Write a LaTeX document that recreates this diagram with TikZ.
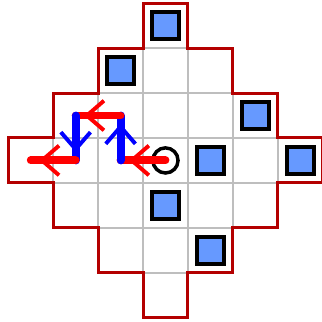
\documentclass[tikz,border=0pt]{standalone}
\usetikzlibrary{calc}
\definecolor{outl}{RGB}{180,0,0}
\definecolor{sqfill}{RGB}{102,153,255}
\definecolor{gridc}{RGB}{190,190,190}
\tikzset{
  cellbox/.style={draw=gridc, line width=1.3pt, fill=white},
  outline/.style={draw=outl, line width=1.9pt, line join=miter},
  bluebox/.style={draw=black, fill=sqfill, line width=2.5pt, rectangle, minimum size=0.6cm, inner sep=0pt},
  ring/.style={draw=black, line width=2.2pt, circle, minimum size=0.56cm, inner sep=0pt},
  shaft/.style={line width=5pt, line cap=round},
  barb/.style={line width=2.5pt},
}
\newcommand\arrowseg[3]{%
  \draw[#1, shaft] (#2) -- (#3);
  \draw[#1, barb] ($(#3)!0.63!(#2)!0.33cm!90:(#3)$) -- ($(#3)!0.25!(#2)$) -- ($(#3)!0.63!(#2)!0.33cm!-90:(#3)$);
}
\begin{document}
\begin{tikzpicture}
\useasboundingbox (-0.185,-7.098) rectangle (6.964,0.073);
% cells
\foreach \r in {0,...,6} {
  \foreach \c in {0,...,6} {
    \pgfmathtruncatemacro\dd{abs(\r-3)+abs(\c-3)}
    \ifnum\dd<4
      \draw[cellbox] (\c,-\r) rectangle ++(1,-1);
    \fi
  }
}
% outline
\draw[outline] (3,0) -- (4,0) -- (4,-1) -- (5,-1) -- (5,-2) -- (6,-2) -- (6,-3) -- (7,-3) -- (7,-4) -- (6,-4) -- (6,-5) -- (5,-5) -- (5,-6) -- (4,-6) -- (4,-7) -- (3,-7) -- (3,-6) -- (2,-6) -- (2,-5) -- (1,-5) -- (1,-4) -- (0,-4) -- (0,-3) -- (1,-3) -- (1,-2) -- (2,-2) -- (2,-1) -- (3,-1) -- cycle;
% blue squares
\node[bluebox] (s1) at (3.5,-0.5) {};
\node[bluebox] (s2) at (2.5,-1.5) {};
\node[bluebox] (s3) at (5.5,-2.5) {};
\node[bluebox] (s4) at (4.5,-3.5) {};
\node[bluebox] (s5) at (6.5,-3.5) {};
\node[bluebox] (s6) at (3.5,-4.5) {};
\node[bluebox] (s7) at (4.5,-5.5) {};
% start ring
\node[ring] (start) at (3.5,-3.5) {};
% path points
\coordinate (p0) at (3.5,-3.5);
\coordinate (p1) at (2.5,-3.5);
\coordinate (p2) at (2.5,-2.5);
\coordinate (p3) at (1.5,-2.5);
\coordinate (p4) at (1.5,-3.5);
\coordinate (p5) at (0.5,-3.5);
\arrowseg{red}{p0}{p1}
\arrowseg{blue}{p1}{p2}
\arrowseg{red}{p2}{p3}
\arrowseg{blue}{p3}{p4}
\arrowseg{red}{p4}{p5}
\end{tikzpicture}
\end{document}
